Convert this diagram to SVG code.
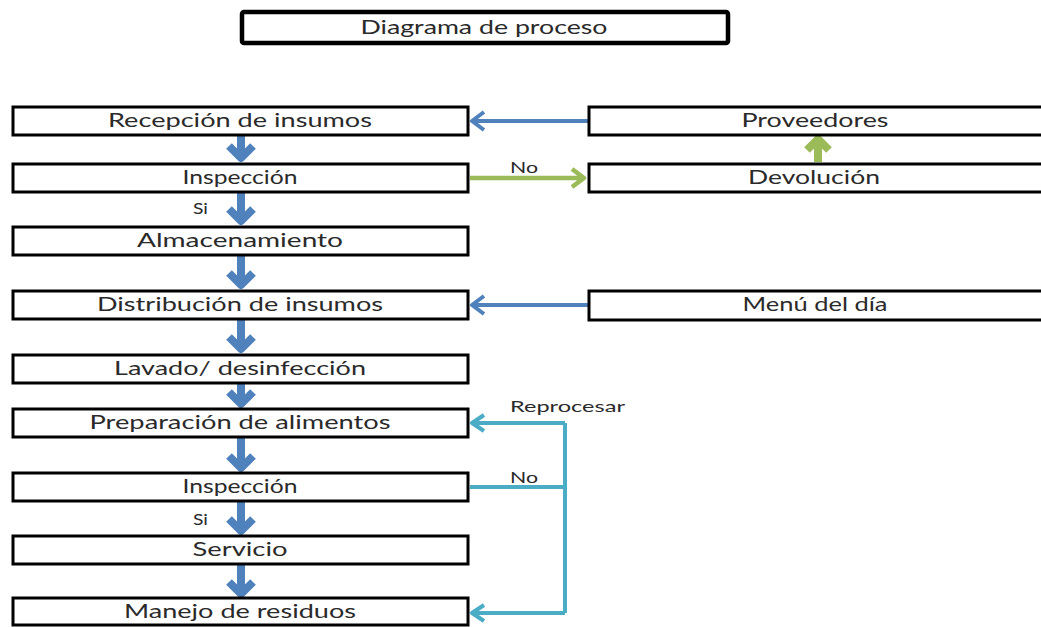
<svg xmlns="http://www.w3.org/2000/svg" width="1041" height="627" viewBox="0 0 1041 627">
<style>
.box{fill:#fff;stroke:#000;stroke-width:3}
.title{fill:#fff;stroke:#000;stroke-width:4.5}
.t{font-family:Lato,"Liberation Sans",sans-serif;font-size:19px;fill:#2a2a2a;text-anchor:middle}
.s{font-family:Lato,"Liberation Sans",sans-serif;font-size:15px;fill:#2a2a2a}
.down{fill:none;stroke:#4F81BD;stroke-width:8;stroke-linejoin:round}
.hb{fill:none;stroke:#4F81BD;stroke-width:4;stroke-linejoin:round}
.hg{fill:none;stroke:#9BBB59;stroke-width:4.5;stroke-linejoin:round}
.ug{fill:none;stroke:#9BBB59;stroke-width:8;stroke-linejoin:round}
.tl{fill:none;stroke:#4BACC6;stroke-width:4;stroke-linejoin:round}
</style>
<rect width="1041" height="627" fill="#fff"/>
<g id="title">
<rect class="title" x="242" y="12" width="486" height="31" rx="2"/>
<text class="t" x="484" y="34" textLength="247" lengthAdjust="spacingAndGlyphs">Diagrama de proceso</text>
</g>
<g id="connectors">
<path class="down" d="M241,135V158M229,146L241,158L253,146"/>
<path class="down" d="M241,192V221M229,209L241,221L253,209"/>
<path class="down" d="M241,255V285M229,273L241,285L253,273"/>
<path class="down" d="M241,319V349M229,337L241,349L253,337"/>
<path class="down" d="M241,383V404M229,392L241,404L253,392"/>
<path class="down" d="M241,437V468M229,456L241,468L253,456"/>
<path class="down" d="M241,502V531M229,519L241,531L253,519"/>
<path class="down" d="M241,564V594M229,582L241,594L253,582"/>
<path class="hb" d="M588,121H472M484,112L472,121L484,130"/>
<path class="hg" d="M470,178H584M572,169L584,178L572,187"/>
<path class="ug" d="M818,162V139M807,150L818,139L829,150"/>
<path class="hb" d="M588,305H472M484,296L472,305L484,314"/>
<path class="tl" d="M470,487H565"/>
<path class="tl" d="M565,423V613"/>
<path class="tl" d="M565,423H472M484,415L472,423L484,431"/>
<path class="tl" d="M565,613H472M484,605L472,613L484,621"/>
<text class="s" x="510" y="173" textLength="28" lengthAdjust="spacingAndGlyphs">No</text>
<text class="s" x="193" y="214" textLength="15" lengthAdjust="spacingAndGlyphs">Si</text>
<text class="s" x="510" y="412" textLength="115" lengthAdjust="spacingAndGlyphs">Reprocesar</text>
<text class="s" x="510" y="483" textLength="28" lengthAdjust="spacingAndGlyphs">No</text>
<text class="s" x="193" y="525" textLength="15" lengthAdjust="spacingAndGlyphs">Si</text>
</g>
<g id="recepcion"><rect class="box" x="13" y="107" width="455" height="28"/><text class="t" x="240" y="127" textLength="264" lengthAdjust="spacingAndGlyphs">Recepción de insumos</text></g>
<g id="inspeccion1"><rect class="box" x="13" y="164" width="455" height="28"/><text class="t" x="240" y="184" textLength="115" lengthAdjust="spacingAndGlyphs">Inspección</text></g>
<g id="almacenamiento"><rect class="box" x="13" y="227" width="455" height="28"/><text class="t" x="240" y="247" textLength="206" lengthAdjust="spacingAndGlyphs">Almacenamiento</text></g>
<g id="distribucion"><rect class="box" x="13" y="291" width="455" height="28"/><text class="t" x="240" y="311" textLength="286" lengthAdjust="spacingAndGlyphs">Distribución de insumos</text></g>
<g id="lavado"><rect class="box" x="13" y="355" width="455" height="28"/><text class="t" x="240" y="375" textLength="252" lengthAdjust="spacingAndGlyphs">Lavado/ desinfección</text></g>
<g id="preparacion"><rect class="box" x="13" y="409" width="455" height="28"/><text class="t" x="240" y="429" textLength="301" lengthAdjust="spacingAndGlyphs">Preparación de alimentos</text></g>
<g id="inspeccion2"><rect class="box" x="13" y="473" width="455" height="28"/><text class="t" x="240" y="493" textLength="115" lengthAdjust="spacingAndGlyphs">Inspección</text></g>
<g id="servicio"><rect class="box" x="13" y="536" width="455" height="28"/><text class="t" x="240" y="556" textLength="95" lengthAdjust="spacingAndGlyphs">Servicio</text></g>
<g id="manejo"><rect class="box" x="13" y="598" width="455" height="27"/><text class="t" x="240" y="618" textLength="232" lengthAdjust="spacingAndGlyphs">Manejo de residuos</text></g>
<g id="proveedores"><rect class="box" x="589" y="107" width="460" height="28"/><text class="t" x="815" y="127" textLength="147" lengthAdjust="spacingAndGlyphs">Proveedores</text></g>
<g id="devolucion"><rect class="box" x="589" y="164" width="460" height="28"/><text class="t" x="814" y="184" textLength="132" lengthAdjust="spacingAndGlyphs">Devolución</text></g>
<g id="menu"><rect class="box" x="589" y="291" width="460" height="29"/><text class="t" x="815" y="311" textLength="145" lengthAdjust="spacingAndGlyphs">Menú del día</text></g>
</svg>
